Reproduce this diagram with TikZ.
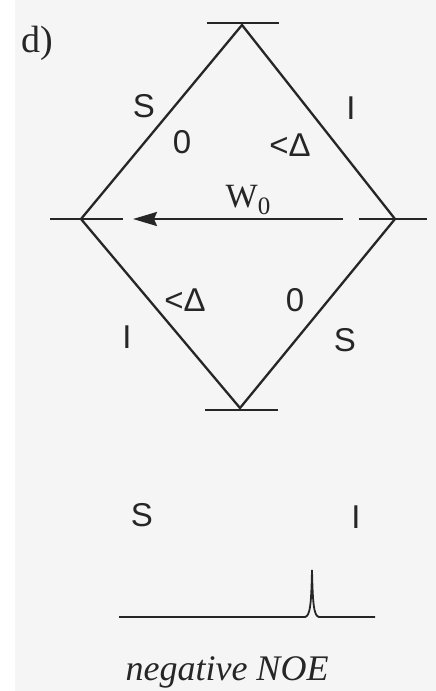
\documentclass[tikz,border=0pt]{standalone}
\usepackage{fontspec}
\setmainfont{Liberation Serif}
\setsansfont{Liberation Sans}
\usetikzlibrary{arrows.meta}
\begin{document}
\begin{tikzpicture}[x=1pt,y=-1pt,
  ln/.style={line width=2.3pt,black!85},
  lbl/.style={font=\sffamily\fontsize{33}{33}\selectfont,text=black!85,inner sep=0pt},
  serif/.style={text=black!85,inner sep=0pt}]
\useasboundingbox (0,0) rectangle (436,691);
\fill[white] (0,0) rectangle (436,691);
\fill[gray!8] (15,0) rectangle (436,691);
% vertices
\coordinate (T) at (242,25);
\coordinate (L) at (81,219);
\coordinate (R) at (395,219);
\coordinate (B) at (240,408);
% diamond
\draw[ln] (T) -- (L) -- (B) -- (R) -- cycle;
% energy level bars
\coordinate (T1) at (207,23); \coordinate (T2) at (279,23);
\coordinate (L1) at (50,219); \coordinate (L2) at (123,219);
\coordinate (R1) at (359,219); \coordinate (R2) at (427,219);
\coordinate (B1) at (205,410); \coordinate (B2) at (278,410);
\draw[ln] (T1) -- (T2);
\draw[ln] (L1) -- (L2);
\draw[ln] (R1) -- (R2);
\draw[ln] (B1) -- (B2);
% W0 arrow
\coordinate (A1) at (343,219);
\coordinate (A2) at (133,219);
\draw[ln,-{Stealth[length=24pt,width=14pt,inset=3pt]}] (A1) -- (A2);
\node[serif,font=\rmfamily\fontsize{34}{34}\selectfont] (w0) at (248,200) {W\raisebox{-7pt}{\fontsize{25}{25}\selectfont 0}};
% labels
\node[serif,font=\rmfamily\fontsize{38}{38}\selectfont] (d) at (37,43) {d)};
\node[lbl] (s1) at (144,106) {S};
\node[lbl] (z1) at (182,142) {0};
\node[lbl] (d1) at (290,145) {<Δ};
\node[lbl] (i1) at (351,108) {I};
\node[lbl] (d2) at (185,300) {<Δ};
\node[lbl] (z2) at (295,300) {0};
\node[lbl] (i2) at (127,337) {I};
\node[lbl] (s2) at (345,340) {S};
% spectrum
\node[lbl] (s3) at (142,515) {S};
\node[lbl] (i3) at (356,517) {I};
\coordinate (S0) at (119,617);
\coordinate (P1) at (305,617);
\coordinate (Pk) at (312,570);
\coordinate (P2) at (319,617);
\coordinate (S1) at (375,617);
\draw[ln,line width=1.8pt] (S0) -- (P1) .. controls (310,616) and (311.3,605) .. (Pk) .. controls (312.7,605) and (314,616) .. (P2) -- (S1);
\node[serif,font=\rmfamily\itshape\fontsize{36}{36}\selectfont] (cap) at (227,672) {negative NOE};
\end{tikzpicture}
\end{document}
